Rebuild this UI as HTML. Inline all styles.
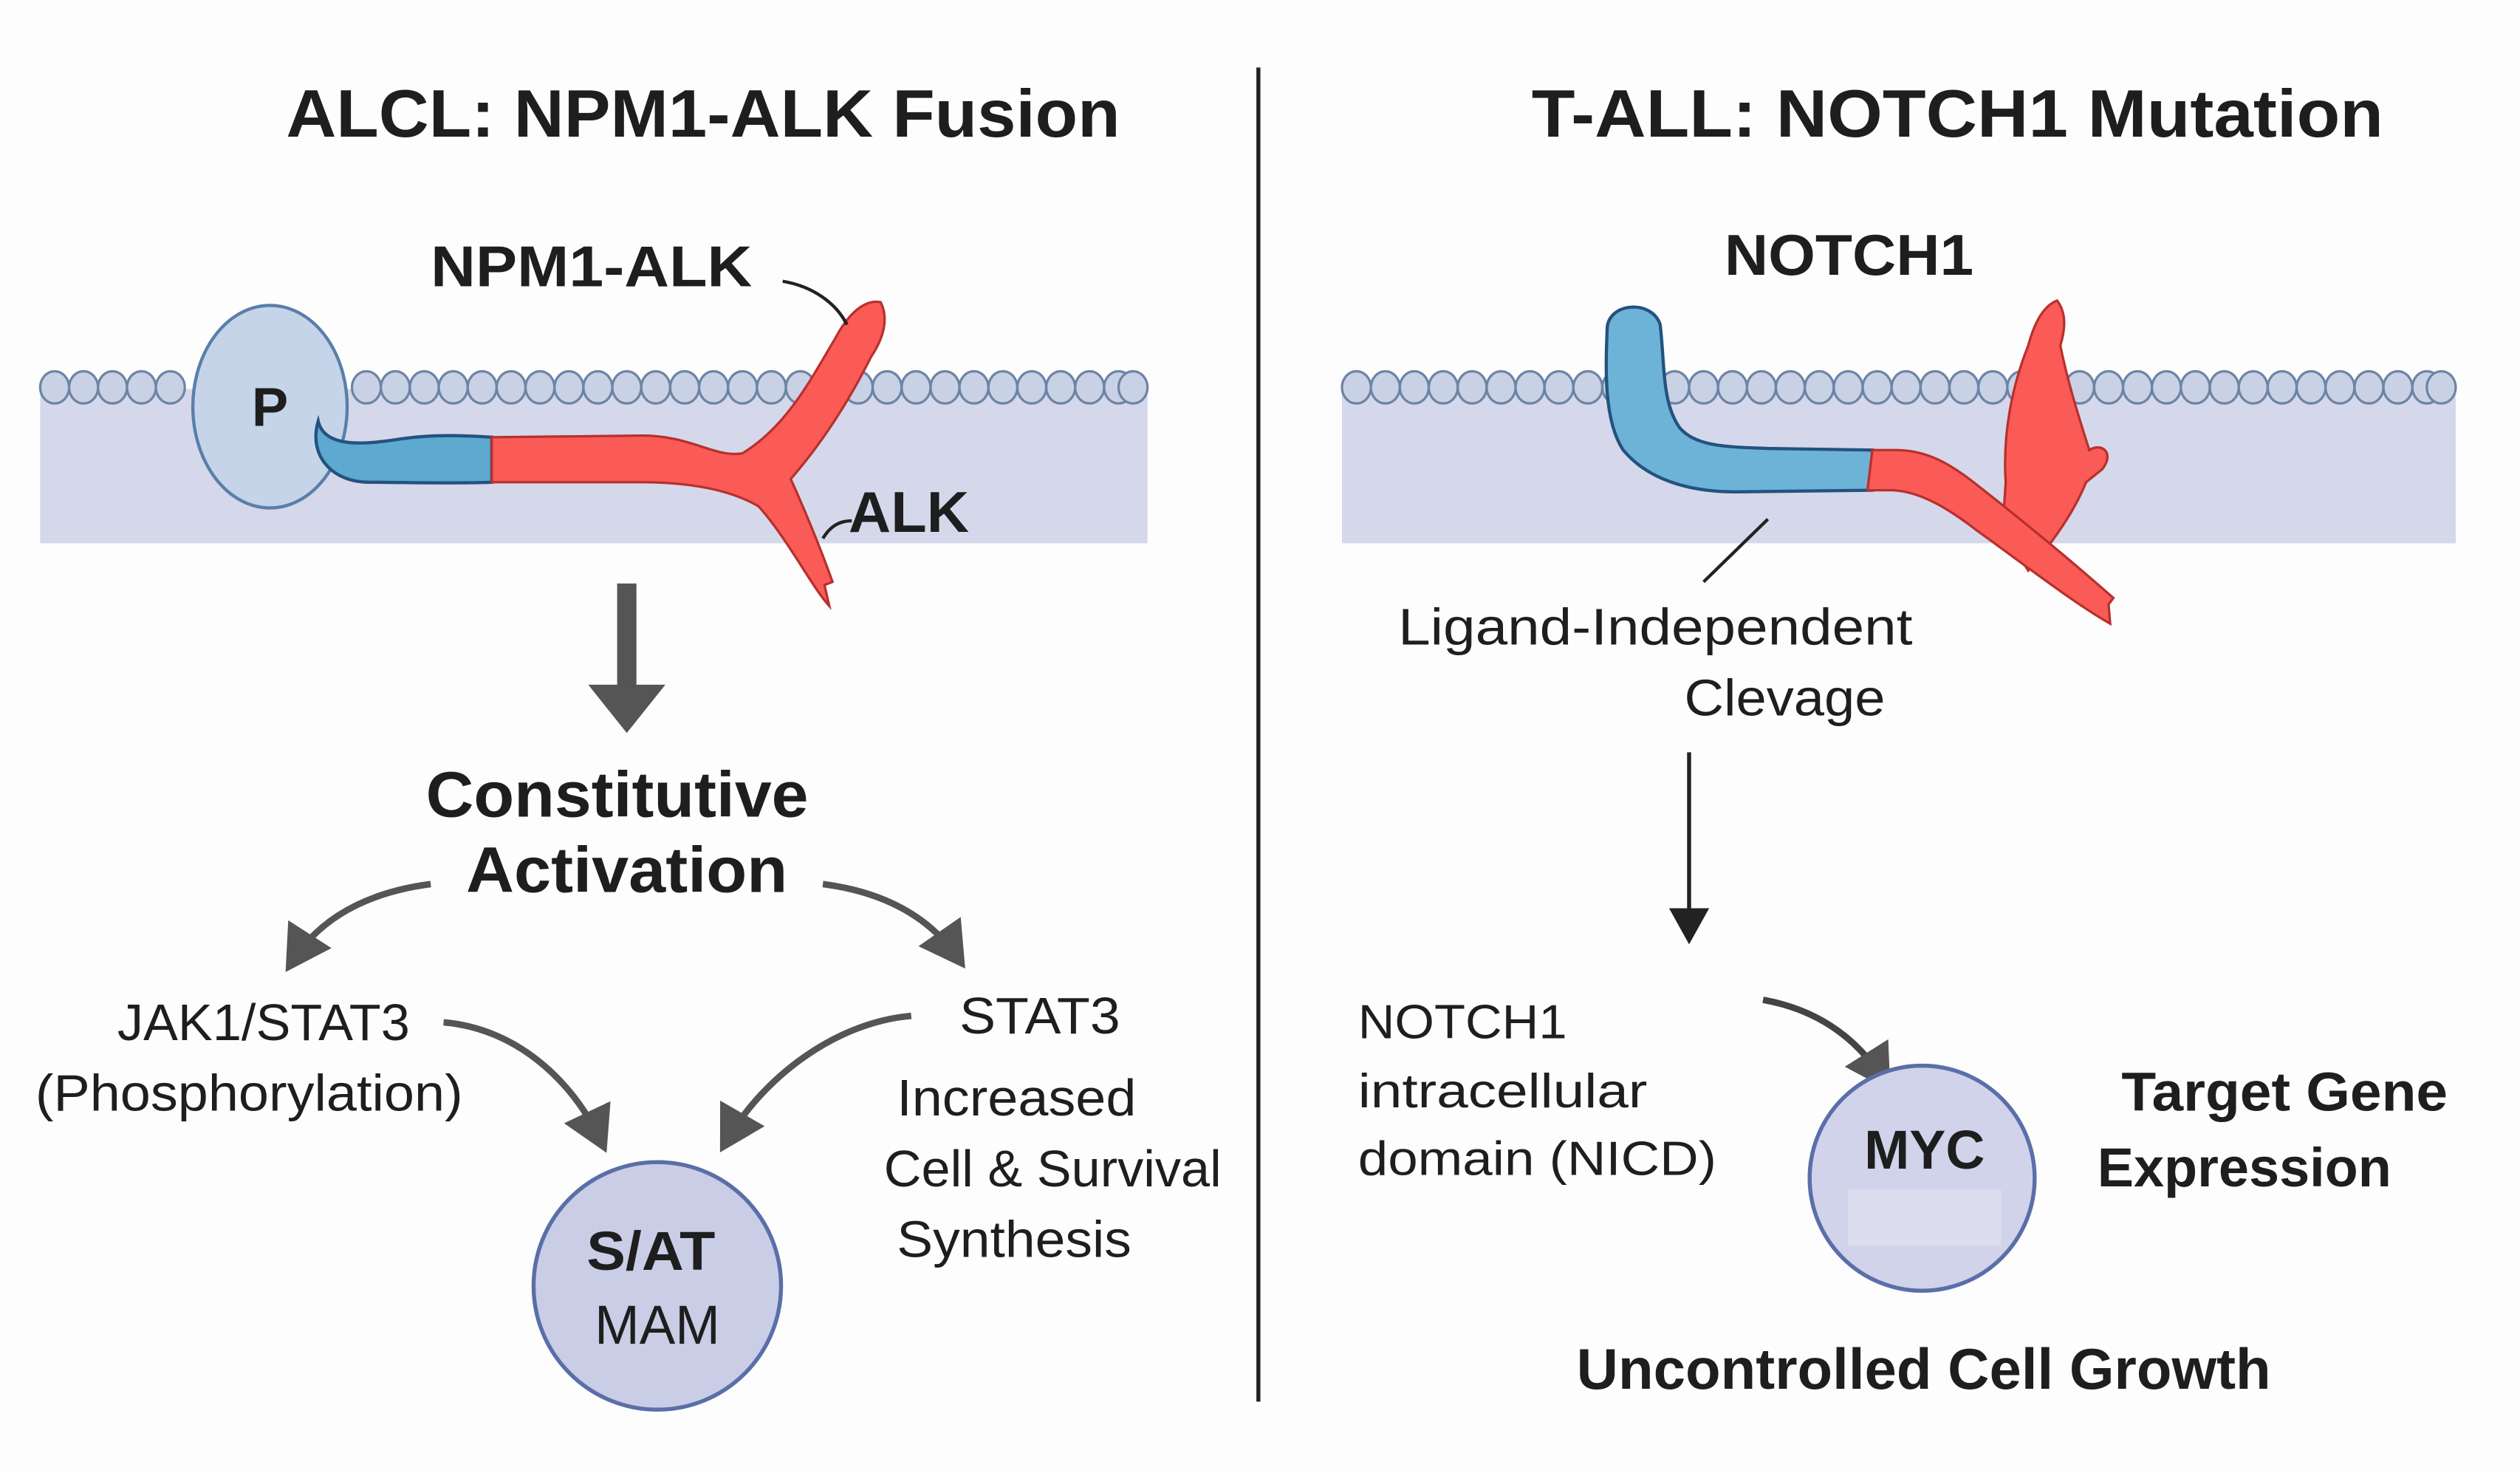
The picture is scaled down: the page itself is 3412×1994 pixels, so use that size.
<!DOCTYPE html>
<html><head><meta charset="utf-8"><style>
html,body{margin:0;padding:0;background:#fdfdfd;}
svg{display:block;}
text{font-family:"Liberation Sans",sans-serif;fill:#1e1e1e;}
</style></head><body>
<svg width="3412" height="1994" viewBox="0 0 1568 916.4" preserveAspectRatio="none" xmlns="http://www.w3.org/2000/svg">
<defs>
<marker id="ah" markerWidth="8" markerHeight="8" refX="5" refY="4" orient="auto" markerUnits="strokeWidth">
<path d="M0,0 L7,4 L0,8 Z" fill="#555"/></marker>
<marker id="ah2" markerWidth="10" markerHeight="10" refX="6" refY="5" orient="auto" markerUnits="strokeWidth">
<path d="M0,0 L9,5 L0,10 Z" fill="#222"/></marker>
</defs>
<rect width="1568" height="917" fill="#fdfdfd"/>
<text x="178" y="85" font-size="42" font-weight="bold" textLength="519" lengthAdjust="spacingAndGlyphs">ALCL: NPM1-ALK Fusion</text>
<text x="953" y="85" font-size="42" font-weight="bold" textLength="530" lengthAdjust="spacingAndGlyphs">T-ALL: NOTCH1 Mutation</text>
<line x1="783" y1="42" x2="783" y2="872" stroke="#222" stroke-width="2.5"/>

<!-- left membrane -->
<rect x="25" y="242" width="689" height="96" fill="#d4d8ea"/>
<g fill="#c9d2e4" stroke="#6d84a6" stroke-width="1.5">
<ellipse cx="34" cy="241" rx="9" ry="10"/><ellipse cx="52" cy="241" rx="9" ry="10"/><ellipse cx="70" cy="241" rx="9" ry="10"/><ellipse cx="88" cy="241" rx="9" ry="10"/><ellipse cx="106" cy="241" rx="9" ry="10"/>
<ellipse cx="228" cy="241" rx="9" ry="10"/><ellipse cx="246" cy="241" rx="9" ry="10"/><ellipse cx="264" cy="241" rx="9" ry="10"/><ellipse cx="282" cy="241" rx="9" ry="10"/><ellipse cx="300" cy="241" rx="9" ry="10"/><ellipse cx="318" cy="241" rx="9" ry="10"/><ellipse cx="336" cy="241" rx="9" ry="10"/><ellipse cx="354" cy="241" rx="9" ry="10"/><ellipse cx="372" cy="241" rx="9" ry="10"/><ellipse cx="390" cy="241" rx="9" ry="10"/><ellipse cx="408" cy="241" rx="9" ry="10"/><ellipse cx="426" cy="241" rx="9" ry="10"/><ellipse cx="444" cy="241" rx="9" ry="10"/><ellipse cx="462" cy="241" rx="9" ry="10"/><ellipse cx="480" cy="241" rx="9" ry="10"/><ellipse cx="498" cy="241" rx="9" ry="10"/><ellipse cx="516" cy="241" rx="9" ry="10"/><ellipse cx="534" cy="241" rx="9" ry="10"/><ellipse cx="552" cy="241" rx="9" ry="10"/><ellipse cx="570" cy="241" rx="9" ry="10"/><ellipse cx="588" cy="241" rx="9" ry="10"/><ellipse cx="606" cy="241" rx="9" ry="10"/><ellipse cx="624" cy="241" rx="9" ry="10"/><ellipse cx="642" cy="241" rx="9" ry="10"/><ellipse cx="660" cy="241" rx="9" ry="10"/><ellipse cx="678" cy="241" rx="9" ry="10"/><ellipse cx="696" cy="241" rx="9" ry="10"/><ellipse cx="705" cy="241" rx="9" ry="10"/>
</g>
<ellipse cx="168" cy="253" rx="48" ry="63" fill="#c5d4e8" stroke="#5a7fa8" stroke-width="2"/>
<text x="168" y="265" font-size="34" font-weight="bold" text-anchor="middle">P</text>
<path d="M198,262 C202,280 230,276 250,273 C270,270 290,271 306,272 L306,300 C280,301 250,300 230,300 C205,300 192,282 198,262 Z" fill="#5ea9cf" stroke="#24527e" stroke-width="2"/>
<path d="M306,272 L400,271 C430,271 445,285 462,282 C490,265 505,235 520,210 C528,195 538,186 548,188 C553,198 550,210 542,222 C528,250 512,275 492,298 C502,320 512,345 518,362 L513,364 L516,377 C505,365 490,335 472,315 C455,305 430,300 400,300 L306,300 Z" fill="#fa5b57" stroke="#b8302d" stroke-width="1.5"/>
<text x="268" y="178" font-size="36" font-weight="bold" textLength="200" lengthAdjust="spacingAndGlyphs">NPM1-ALK</text>
<path d="M487,175 C505,178 520,188 527,202" fill="none" stroke="#222" stroke-width="2"/>
<text x="528" y="331" font-size="36" font-weight="bold" textLength="75" lengthAdjust="spacingAndGlyphs">ALK</text>
<path d="M530,324 C520,324 515,330 512,335" fill="none" stroke="#222" stroke-width="2"/>

<rect x="384" y="363" width="12" height="64" fill="#555"/>
<path d="M366,426 L414,426 L390,456 Z" fill="#555"/>
<text x="265" y="508" font-size="40" font-weight="bold" textLength="238" lengthAdjust="spacingAndGlyphs">Constitutive</text>
<text x="290" y="555" font-size="40" font-weight="bold" textLength="200" lengthAdjust="spacingAndGlyphs">Activation</text>
<path d="M268,550 C230,555 200,570 182,598" fill="none" stroke="#555" stroke-width="4" marker-end="url(#ah)"/>
<path d="M512,550 C550,555 578,570 596,596" fill="none" stroke="#555" stroke-width="4" marker-end="url(#ah)"/>
<text x="73" y="647" font-size="32" textLength="182" lengthAdjust="spacingAndGlyphs">JAK1/STAT3</text>
<text x="22" y="691" font-size="32" textLength="266" lengthAdjust="spacingAndGlyphs">(Phosphorylation)</text>
<text x="597" y="643" font-size="32" textLength="100" lengthAdjust="spacingAndGlyphs">STAT3</text>
<text x="558" y="694" font-size="32" textLength="149" lengthAdjust="spacingAndGlyphs">Increased</text>
<text x="550" y="738" font-size="32" textLength="210" lengthAdjust="spacingAndGlyphs">Cell &amp; Survival</text>
<text x="558" y="782" font-size="32" textLength="146" lengthAdjust="spacingAndGlyphs">Synthesis</text>
<path d="M276,636 C320,640 355,670 374,710" fill="none" stroke="#555" stroke-width="4" marker-end="url(#ah)"/>
<path d="M567,632 C520,636 475,670 452,710" fill="none" stroke="#555" stroke-width="4" marker-end="url(#ah)"/>
<circle cx="409" cy="800" r="77" fill="#c9cde6" stroke="#5a6fa8" stroke-width="2.5"/>
<text x="365" y="790" font-size="34" font-weight="bold" textLength="80" lengthAdjust="spacingAndGlyphs">S/AT</text>
<text x="370" y="836" font-size="34" textLength="78" lengthAdjust="spacingAndGlyphs">MAM</text>

<!-- right -->
<text x="1073" y="171" font-size="36" font-weight="bold" textLength="155" lengthAdjust="spacingAndGlyphs">NOTCH1</text>
<rect x="835" y="242" width="693" height="96" fill="#d4d8ea"/>
<g fill="#c9d2e4" stroke="#6d84a6" stroke-width="1.5">
<ellipse cx="844" cy="241" rx="9" ry="10"/><ellipse cx="862" cy="241" rx="9" ry="10"/><ellipse cx="880" cy="241" rx="9" ry="10"/><ellipse cx="898" cy="241" rx="9" ry="10"/><ellipse cx="916" cy="241" rx="9" ry="10"/><ellipse cx="934" cy="241" rx="9" ry="10"/><ellipse cx="952" cy="241" rx="9" ry="10"/><ellipse cx="970" cy="241" rx="9" ry="10"/><ellipse cx="988" cy="241" rx="9" ry="10"/><ellipse cx="1006" cy="241" rx="9" ry="10"/><ellipse cx="1024" cy="241" rx="9" ry="10"/><ellipse cx="1042" cy="241" rx="9" ry="10"/><ellipse cx="1060" cy="241" rx="9" ry="10"/><ellipse cx="1078" cy="241" rx="9" ry="10"/><ellipse cx="1096" cy="241" rx="9" ry="10"/><ellipse cx="1114" cy="241" rx="9" ry="10"/><ellipse cx="1132" cy="241" rx="9" ry="10"/><ellipse cx="1150" cy="241" rx="9" ry="10"/><ellipse cx="1168" cy="241" rx="9" ry="10"/><ellipse cx="1186" cy="241" rx="9" ry="10"/><ellipse cx="1204" cy="241" rx="9" ry="10"/><ellipse cx="1222" cy="241" rx="9" ry="10"/><ellipse cx="1240" cy="241" rx="9" ry="10"/><ellipse cx="1258" cy="241" rx="9" ry="10"/><ellipse cx="1276" cy="241" rx="9" ry="10"/><ellipse cx="1294" cy="241" rx="9" ry="10"/><ellipse cx="1312" cy="241" rx="9" ry="10"/><ellipse cx="1330" cy="241" rx="9" ry="10"/><ellipse cx="1348" cy="241" rx="9" ry="10"/><ellipse cx="1366" cy="241" rx="9" ry="10"/><ellipse cx="1384" cy="241" rx="9" ry="10"/><ellipse cx="1402" cy="241" rx="9" ry="10"/><ellipse cx="1420" cy="241" rx="9" ry="10"/><ellipse cx="1438" cy="241" rx="9" ry="10"/><ellipse cx="1456" cy="241" rx="9" ry="10"/><ellipse cx="1474" cy="241" rx="9" ry="10"/><ellipse cx="1492" cy="241" rx="9" ry="10"/><ellipse cx="1510" cy="241" rx="9" ry="10"/><ellipse cx="1519" cy="241" rx="9" ry="10"/>
</g>
<path d="M1248,300 C1246,270 1252,240 1262,215 C1266,200 1272,190 1280,187 C1286,195 1285,205 1282,215 C1286,235 1292,255 1300,280 C1308,275 1316,282 1308,292 L1298,300 C1290,320 1275,340 1262,355 L1246,330 Z" fill="#fa5b57" stroke="#b8302d" stroke-width="1.5"/>
<path d="M1000,205 C1000,188 1028,186 1033,202 C1036,228 1034,250 1045,266 C1055,278 1075,278 1100,279 L1165,280 L1165,305 L1080,306 C1050,306 1025,298 1010,280 C998,262 999,230 1000,205 Z" fill="#6db3d8" stroke="#24527e" stroke-width="2"/>
<path d="M1165,280 L1180,280 C1200,280 1215,290 1228,300 C1260,325 1290,350 1315,372 L1312,376 L1313,388 C1290,375 1258,350 1230,330 C1212,316 1195,306 1178,305 L1162,305 Z" fill="#fa5b57" stroke="#b8302d" stroke-width="1.5"/>
<line x1="1100" y1="323" x2="1060" y2="362" stroke="#222" stroke-width="2"/>
<text x="870" y="401" font-size="32" textLength="320" lengthAdjust="spacingAndGlyphs">Ligand-Independent</text>
<text x="1048" y="445" font-size="32" textLength="125" lengthAdjust="spacingAndGlyphs">Clevage</text>
<line x1="1051" y1="468" x2="1051" y2="580" stroke="#222" stroke-width="2.5" marker-end="url(#ah2)"/>
<text x="845" y="646" font-size="30" textLength="130" lengthAdjust="spacingAndGlyphs">NOTCH1</text>
<text x="845" y="689" font-size="30" textLength="180" lengthAdjust="spacingAndGlyphs">intracellular</text>
<text x="845" y="731" font-size="30" textLength="223" lengthAdjust="spacingAndGlyphs">domain (NICD)</text>
<path d="M1097,622 C1130,628 1155,645 1172,672" fill="none" stroke="#444" stroke-width="4" marker-end="url(#ah)"/>
<circle cx="1196" cy="733" r="70" fill="#d0d3ea" stroke="#5a6fa8" stroke-width="2.5"/>
<rect x="1150" y="740" width="95" height="35" fill="#dcdef0"/>
<text x="1160" y="727" font-size="34" font-weight="bold" textLength="75" lengthAdjust="spacingAndGlyphs">MYC</text>
<text x="1320" y="691" font-size="34" font-weight="bold" textLength="203" lengthAdjust="spacingAndGlyphs">Target Gene</text>
<text x="1305" y="738" font-size="34" font-weight="bold" textLength="183" lengthAdjust="spacingAndGlyphs">Expression</text>
<text x="981" y="864" font-size="36" font-weight="bold" textLength="432" lengthAdjust="spacingAndGlyphs">Uncontrolled Cell Growth</text>
</svg>
</body></html>
